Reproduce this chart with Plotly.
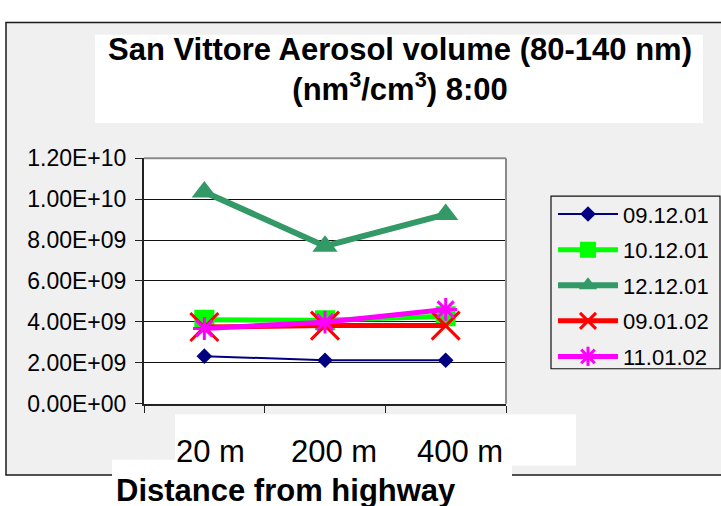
import plotly.graph_objects as go

# Sampling distances from the highway
distances = ["20 m", "200 m", "400 m"]

# Aerosol volume (nm3/cm3) at 8:00 for each sampling day
v_091201 = [2.33e9, 2.13e9, 2.13e9]
v_101201 = [4.11e9, 4.08e9, 4.28e9]
v_121201 = [1.035e10, 7.70e9, 9.25e9]
v_090102 = [3.75e9, 3.82e9, 3.82e9]
v_110102 = [3.68e9, 3.99e9, 4.61e9]

series_names = ["09.12.01", "10.12.01", "12.12.01", "09.01.02", "11.01.02"]

y_tickvals = [0, 2e9, 4e9, 6e9, 8e9, 1e10, 1.2e10]
y_ticktext = ["0.00E+00", "2.00E+09", "4.00E+09", "6.00E+09",
              "8.00E+09", "1.00E+10", "1.20E+10"]

W, H = 721, 506
FONT = "Liberation Sans, Arial, sans-serif"


def px(x):
    return x / W


def py(y):
    return 1 - y / H


fig = go.Figure()

styles = [
    dict(color="#000080", width=2, symbol="diamond", size=12, lw=0),
    dict(color="#00ff00", width=5, symbol="square", size=20, lw=0),
    dict(color="#339966", width=6, symbol="triangle-up", size=22, lw=0),
    dict(color="#ff0000", width=5, symbol="x-thin-open", size=28, lw=3),
    dict(color="#ff00ff", width=5, symbol="asterisk-open", size=19, lw=3),
]
values = [v_091201, v_101201, v_121201, v_090102, v_110102]

for name, vals, st in zip(series_names, values, styles):
    fig.add_trace(go.Scatter(
        x=distances, y=vals, name=name, legendgroup=name,
        mode="lines+markers",
        line=dict(color=st["color"], width=st["width"]),
        marker=dict(symbol=st["symbol"], size=st["size"], color=st["color"],
                    line=dict(color=st["color"], width=st["lw"])),
    ))

shapes = [
    # grey chart frame
    dict(type="rect", xref="paper", yref="paper", layer="below",
         x0=px(6), x1=px(760), y0=py(487), y1=py(10),
         fillcolor="#f0f0f0", line=dict(color="#1a1a1a", width=1.5)),
    # white plotting area
    dict(type="rect", xref="paper", yref="paper", layer="below",
         x0=px(144), x1=px(506), y0=py(412), y1=py(153),
         fillcolor="white", line=dict(width=0)),
    # title box
    dict(type="rect", xref="paper", yref="paper", layer="below",
         x0=px(95), x1=px(703), y0=py(116), y1=py(23),
         fillcolor="white", line=dict(width=0)),
    # category label box
    dict(type="rect", xref="paper", yref="paper", layer="below",
         x0=px(175), x1=px(576), y0=py(477), y1=py(423),
         fillcolor="white", line=dict(width=0)),
    # axis title box
    dict(type="rect", xref="paper", yref="paper", layer="below",
         x0=px(112), x1=px(512), y0=py(520), y1=py(471),
         fillcolor="white", line=dict(width=0)),
    # legend frame
    dict(type="rect", xref="paper", yref="paper", layer="below",
         x0=px(551), x1=px(720), y0=py(375), y1=py(193),
         fillcolor="rgba(0,0,0,0)", line=dict(color="#111111", width=1.2)),
    # top and right plot borders
    dict(type="line", xref="paper", yref="paper", layer="above",
         x0=px(144), x1=px(506), y0=py(153), y1=py(153),
         line=dict(color="#8a8a8a", width=2)),
    dict(type="line", xref="paper", yref="paper", layer="above",
         x0=px(506), x1=px(506), y0=py(153), y1=py(412),
         line=dict(color="#8a8a8a", width=2)),
]

annotations = [
    dict(xref="paper", yref="paper", x=px(400), y=py(60),
         xanchor="center", yanchor="middle", showarrow=False,
         text="San Vittore Aerosol volume (80-140 nm)<br>(nm<sup>3</sup>/cm<sup>3</sup>) 8:00",
         font=dict(family=FONT, size=31, color="black", weight="bold")),
    dict(xref="paper", yref="paper", x=px(286), y=py(503),
         xanchor="center", yanchor="middle", showarrow=False,
         text="Distance from highway",
         font=dict(family=FONT, size=31, color="black", weight="bold")),
]
for cat, shift in zip(distances, [6, 9, 14]):
    annotations.append(dict(
        xref="x", yref="paper", x=cat, xshift=shift, y=py(462),
        xanchor="center", yanchor="middle", showarrow=False, text=cat,
        font=dict(family=FONT, size=31, color="black")))

fig.update_layout(
    width=W, height=H,
    margin=dict(l=0, r=0, t=0, b=0),
    paper_bgcolor="white", plot_bgcolor="white",
    font=dict(family=FONT, color="black"),
    shapes=shapes, annotations=annotations,
    showlegend=True,
    legend=dict(x=px(553), y=py(190), xanchor="left", yanchor="top",
                bgcolor="rgba(0,0,0,0)", borderwidth=0,
                font=dict(family=FONT, size=22, color="black"),
                tracegroupgap=4, itemwidth=60, traceorder="grouped"),
    xaxis=dict(domain=[px(144), px(506)], type="category",
               categoryorder="array", categoryarray=distances,
               range=[-0.5, 2.5], showgrid=False, zeroline=False,
               showline=True, linecolor="#222222", linewidth=2,
               ticks="outside", ticklen=7, tickcolor="#222222",
               tickson="boundaries", showticklabels=False),
    yaxis=dict(domain=[py(412), py(153)], range=[0, 1.2e10],
               tickmode="array", tickvals=y_tickvals, ticktext=y_ticktext,
               showgrid=True, gridcolor="#111111", gridwidth=1,
               zeroline=False, showline=True, linecolor="#222222",
               linewidth=2, ticks="outside", ticklen=7, tickcolor="#222222",
               ticklabelstandoff=4,
               tickfont=dict(family=FONT, size=23, color="black")),
)

fig.write_html("out.html")
